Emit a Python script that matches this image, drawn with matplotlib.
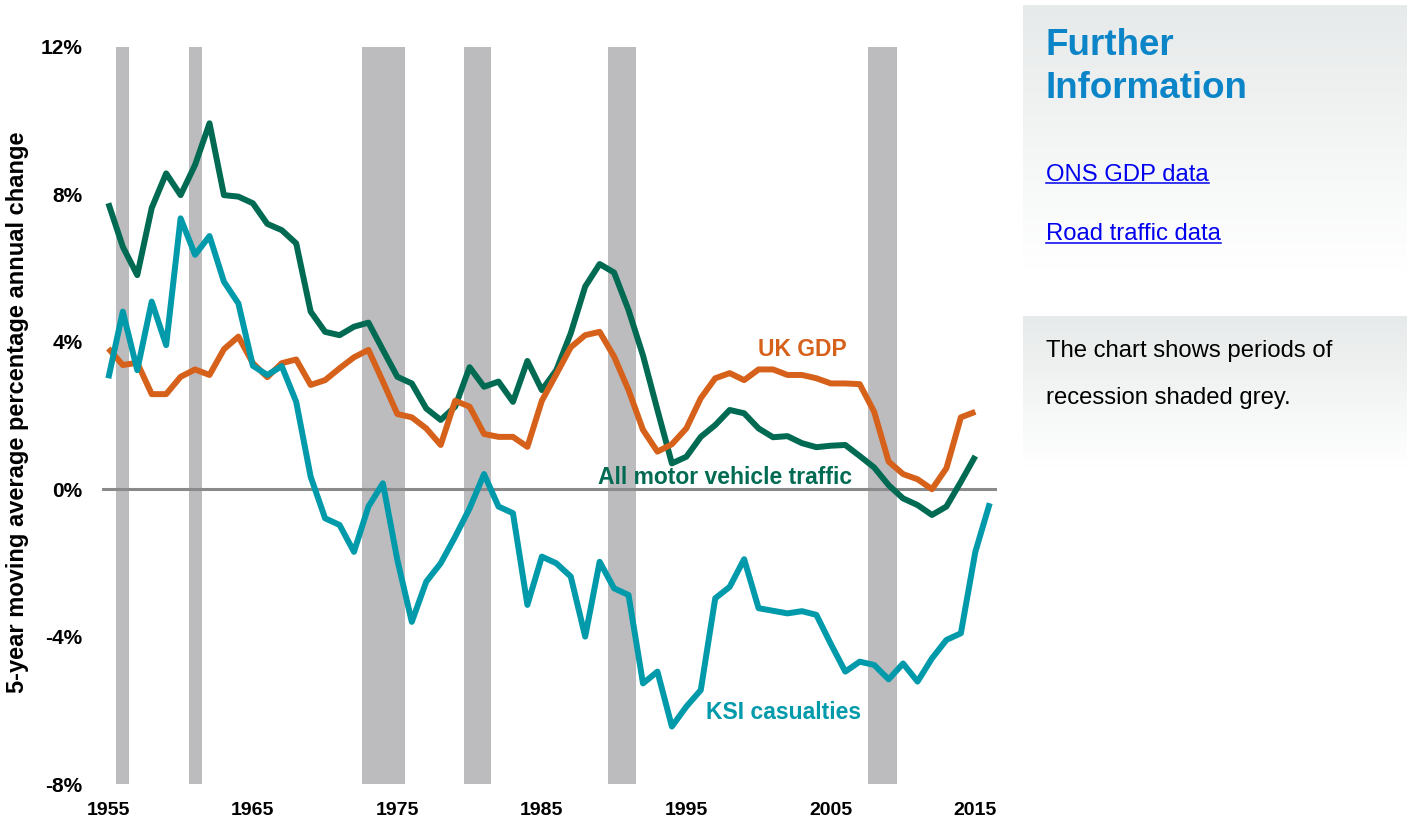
import matplotlib
matplotlib.use('Agg')
import matplotlib.pyplot as plt
import numpy as np
from matplotlib.lines import Line2D

# ---------------- data ----------------
years_main = list(range(1955, 2016))
years_ksi = list(range(1955, 2017))

traffic = [7.76, 6.58, 5.81, 7.63, 8.57, 7.98, 8.80, 9.93, 7.98, 7.94,
           7.76, 7.20, 7.03, 6.67, 4.82, 4.27, 4.18, 4.41, 4.52, 3.78,
           3.05, 2.87, 2.19, 1.88, 2.24, 3.31, 2.78, 2.92, 2.37, 3.48,
           2.69, 3.23, 4.23, 5.50, 6.11, 5.88, 4.86, 3.63, 2.15, 0.70,
           0.88, 1.42, 1.74, 2.15, 2.06, 1.65, 1.41, 1.44, 1.25, 1.14,
           1.18, 1.20, 0.90, 0.59, 0.11, -0.25, -0.43, -0.70, -0.47, 0.20, 0.90]

gdp = [3.82, 3.37, 3.43, 2.58, 2.58, 3.05, 3.25, 3.10, 3.80, 4.14,
       3.42, 3.04, 3.42, 3.52, 2.83, 2.96, 3.28, 3.58, 3.78, 2.92,
       2.04, 1.95, 1.65, 1.20, 2.40, 2.24, 1.50, 1.42, 1.42, 1.15,
       2.40, 3.12, 3.85, 4.18, 4.27, 3.60, 2.69, 1.61, 1.02, 1.22,
       1.65, 2.47, 3.01, 3.15, 2.96, 3.25, 3.25, 3.10, 3.10, 3.01,
       2.87, 2.87, 2.85, 2.10, 0.75, 0.41, 0.27, 0.00, 0.57, 1.95, 2.10]

ksi = [3.01, 4.82, 3.23, 5.09, 3.91, 7.35, 6.36, 6.87, 5.63, 5.04,
       3.35, 3.10, 3.34, 2.37, 0.34, -0.79, -0.97, -1.70, -0.47, 0.16,
       -1.92, -3.60, -2.51, -2.01, -1.29, -0.52, 0.41, -0.47, -0.65, -3.14,
       -1.83, -2.01, -2.37, -4.00, -1.97, -2.69, -2.87, -5.27, -4.95, -6.44,
       -5.90, -5.45, -2.96, -2.65, -1.90, -3.23, -3.30, -3.37, -3.31, -3.41,
       -4.20, -4.95, -4.68, -4.77, -5.16, -4.73, -5.22, -4.59, -4.09, -3.91,
       -1.70, -0.38]

rec_start = [1955.5, 1960.55, 1972.55, 1979.6, 1989.55, 2007.55]
rec_end = [1956.45, 1961.45, 1975.55, 1981.5, 1991.55, 2009.55]

xticks = [1955, 1965, 1975, 1985, 1995, 2005, 2015]
yticks = [-8, -4, 0, 4, 8, 12]
ytick_labels = ['-8%', '-4%', '0%', '4%', '8%', '12%']

series_labels = ['UK GDP', 'All motor vehicle traffic', 'KSI casualties']

# ---------------- style ----------------
C_TRAFFIC = '#006a52'
C_GDP = '#d6611b'
C_KSI = '#009aaa'
C_BAND = '#bcbcbf'
FONT = 'Liberation Sans'

W, H = 1410, 821
fig = plt.figure(figsize=(W / 100, H / 100), dpi=100)
fig.patch.set_facecolor('white')

ax_l, ax_r, ax_t, ax_b = 102, 997, 47, 784
ax = fig.add_axes([ax_l / W, 1 - ax_b / H, (ax_r - ax_l) / W, (ax_b - ax_t) / H])
ax.set_xlim(1954.56, 2016.5)
ax.set_ylim(-8, 12)

for s, e in zip(rec_start, rec_end):
    ax.axvspan(s, e, color=C_BAND, lw=0, zorder=1)

ax.axhline(0, color='#8a8a8a', lw=2.2, zorder=2)

lw = 4.3
ax.plot(years_main, traffic, color=C_TRAFFIC, lw=lw, solid_joinstyle='round',
        solid_capstyle='butt', zorder=3)
ax.plot(years_main, gdp, color=C_GDP, lw=lw, solid_joinstyle='round',
        solid_capstyle='butt', zorder=4)
ax.plot(years_ksi, ksi, color=C_KSI, lw=lw, solid_joinstyle='round',
        solid_capstyle='butt', zorder=5)

ax.text(1999.95, 3.78, series_labels[0], color=C_GDP, fontsize=16.5,
        fontweight='bold', family=FONT, ha='left', va='center', zorder=6)
ax.text(1988.9, 0.33, series_labels[1], color=C_TRAFFIC, fontsize=16.5,
        fontweight='bold', family=FONT, ha='left', va='center', zorder=6)
ax.text(1996.35, -6.05, series_labels[2], color=C_KSI, fontsize=16.5,
        fontweight='bold', family=FONT, ha='left', va='center', zorder=6)

ax.set_xticks(xticks)
ax.set_xticklabels([str(x) for x in xticks], fontsize=14, fontweight='bold', family=FONT)
ax.set_yticks(yticks)
ax.set_yticklabels(ytick_labels, fontsize=15, fontweight='bold', family=FONT)
ax.tick_params(axis='both', length=0)
ax.tick_params(axis='x', pad=13)
ax.tick_params(axis='y', pad=14)
for sp in ax.spines.values():
    sp.set_visible(False)
ax.set_facecolor('none')

fig.text(18 / W, 1 - 412 / H, '5-year moving average percentage annual change',
         rotation=90, ha='center', va='center', fontsize=17, fontweight='bold',
         family=FONT, color='black')

# ---------------- side panel ----------------
def grad_box(x0, y0, x1, y1):
    a = fig.add_axes([x0 / W, 1 - y1 / H, (x1 - x0) / W, (y1 - y0) / H], zorder=0)
    n = 256
    t = np.linspace(0, 1, n)[:, None]
    top = np.array([231, 234, 234]) / 255.0
    bot = np.array([1.0, 1.0, 1.0])
    img = top[None, None, :] * (1 - t[..., None]) + bot[None, None, :] * t[..., None]
    img = np.repeat(img, 2, axis=1)
    a.imshow(img, aspect='auto', extent=[0, 1, 0, 1], interpolation='bilinear')
    a.set_axis_off()

grad_box(1023, 5, 1407, 270)
grad_box(1023, 316, 1407, 468)

def fy(py):
    return 1 - py / H

fig.text(1046 / W, fy(55), 'Further', color='#0b85c8', fontsize=26.5,
         fontweight='bold', family=FONT, ha='left', va='baseline')
fig.text(1046 / W, fy(98), 'Information', color='#0b85c8', fontsize=26.5,
         fontweight='bold', family=FONT, ha='left', va='baseline')

link1 = fig.text(1046 / W, fy(181), 'ONS GDP data', color='#0000ee', fontsize=17.2,
                 family=FONT, ha='left', va='baseline')
link2 = fig.text(1046 / W, fy(240.5), 'Road traffic data', color='#0000ee', fontsize=17.2,
                 family=FONT, ha='left', va='baseline')

fig.text(1046 / W, fy(357), 'The chart shows periods of', color='black', fontsize=17.2,
         family=FONT, ha='left', va='baseline')
fig.text(1046 / W, fy(404), 'recession shaded grey.', color='black', fontsize=17.2,
         family=FONT, ha='left', va='baseline')

fig.canvas.draw()
r = fig.canvas.get_renderer()
for t, uy in ((link1, 183.5), (link2, 243.0)):
    bb = t.get_window_extent(renderer=r)
    fig.add_artist(Line2D([bb.x0 / W, bb.x1 / W], [fy(uy), fy(uy)],
                          transform=fig.transFigure, color='#0000ee', lw=1.1))

fig.savefig('out.png', dpi=100, facecolor='white')
